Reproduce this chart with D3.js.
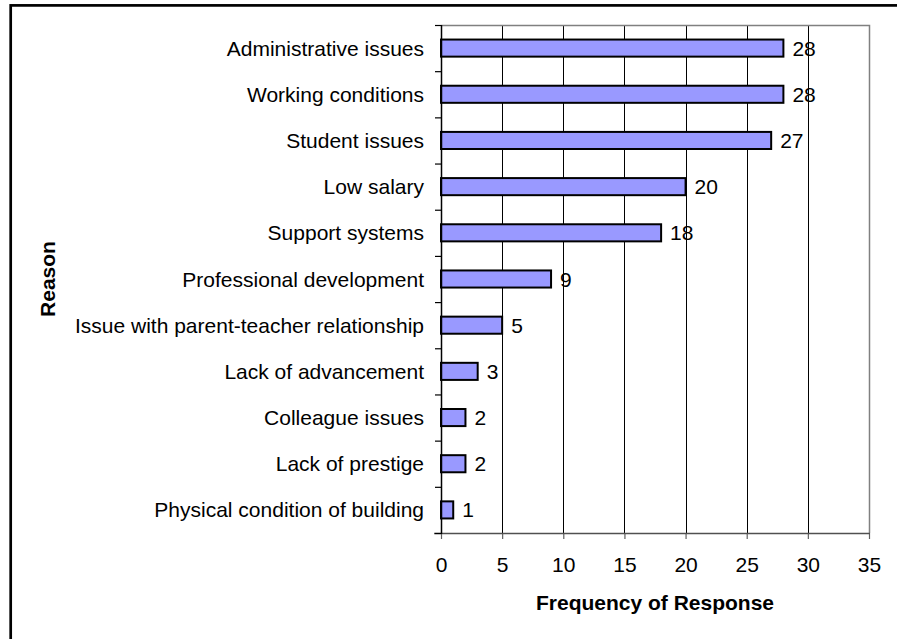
<!DOCTYPE html>
<html><head><meta charset="utf-8">
<script src="https://cdn.jsdelivr.net/npm/d3@7"></script>
<style>body{margin:0;background:#fff}svg{display:block}text{font-family:"Liberation Sans",Arial,sans-serif;fill:#000}</style>
</head><body>
<script>
const categories = ["Administrative issues","Working conditions","Student issues","Low salary","Support systems","Professional development","Issue with parent-teacher relationship","Lack of advancement","Colleague issues","Lack of prestige","Physical condition of building"];
const values = [28,28,27,20,18,9,5,3,2,2,1];
const xTicks = [0,5,10,15,20,25,30,35];
const xTitle = "Frequency of Response";
const yTitle = "Reason";

const W = 897, H = 639;
const L = 441, R = 869, T = 25, B = 533;
const svg = d3.select("body").append("svg").attr("width", W).attr("height", H);

// outer frame (right/bottom beyond the picture)
svg.append("rect").attr("x", 10.7).attr("y", 5.4).attr("width", 900).attr("height", 700)
  .attr("fill", "none").attr("stroke", "#000").attr("stroke-width", 2.7);

const x = d3.scaleLinear().domain([0, 35]).range([L, R]);
const y = d3.scaleBand().domain(categories).range([T, B]).paddingInner(0.63).paddingOuter(0.315);
const yb = d3.scaleLinear().domain([0, categories.length]).range([T, B]);

// gridlines
svg.append("g").selectAll("line").data(xTicks.filter(t => t > 0 && t < 35)).join("line")
  .attr("x1", d => Math.round(x(d)) + 0.5).attr("x2", d => Math.round(x(d)) + 0.5)
  .attr("y1", T).attr("y2", B).attr("stroke", "#000").attr("stroke-width", 1);
// plot border top/right
svg.append("path").attr("d", `M${L},${T + 0.5}H${R + 0.5}V${B}`).attr("fill", "none").attr("stroke", "#808080").attr("stroke-width", 1.5);

// bars
svg.append("g").selectAll("rect").data(values).join("rect")
  .attr("x", x(0)).attr("y", (d, i) => y(categories[i]))
  .attr("width", d => x(d) - x(0)).attr("height", y.bandwidth())
  .attr("fill", "#9999FF").attr("stroke", "#000").attr("stroke-width", 2);

// value labels
svg.append("g").selectAll("text").data(values).join("text")
  .attr("x", d => x(d) + 9).attr("y", (d, i) => y(categories[i]) + y.bandwidth() / 2)
  .attr("dy", "0.36em").attr("font-size", 21).text(d => d);

// x axis
const xa = svg.append("g").attr("transform", `translate(0,${B})`)
  .call(d3.axisBottom(x).tickValues(xTicks).tickSize(6).tickPadding(18).tickSizeOuter(0));
xa.select(".domain").remove();
xa.selectAll(".tick line").attr("stroke", "#606060").attr("stroke-width", 1.2);
xa.selectAll("text").attr("font-size", 21).attr("font-family", "Liberation Sans, Arial, sans-serif");
svg.append("line").attr("x1", 434).attr("x2", R + 1).attr("y1", B + 0.5).attr("y2", B + 0.5).attr("stroke", "#505050").attr("stroke-width", 1.5);

// y axis with boundary ticks
const ya = svg.append("g").attr("transform", `translate(${L},0)`)
  .call(d3.axisLeft(yb).ticks(11).tickValues(d3.range(0, categories.length + 1)).tickSize(6).tickFormat(""));
ya.select(".domain").remove();
ya.selectAll(".tick line").attr("stroke", "#000").attr("stroke-width", 1.2);
svg.append("line").attr("x1", L + 0.5).attr("x2", L + 0.5).attr("y1", T).attr("y2", B + 1).attr("stroke", "#000").attr("stroke-width", 1.5);

// category labels
svg.append("g").selectAll("text").data(categories).join("text")
  .attr("x", 424).attr("y", d => y(d) + y.bandwidth() / 2).attr("dy", "0.36em")
  .attr("text-anchor", "end").attr("font-size", 21).text(d => d);

// titles
svg.append("text").attr("x", (L + R) / 2).attr("y", 610).attr("text-anchor", "middle")
  .attr("font-size", 21).attr("font-weight", "bold").text(xTitle);
svg.append("text").attr("transform", `translate(55,${(T + B) / 2}) rotate(-90)`).attr("text-anchor", "middle")
  .attr("font-size", 21).attr("font-weight", "bold").text(yTitle);
</script>
</body></html>
